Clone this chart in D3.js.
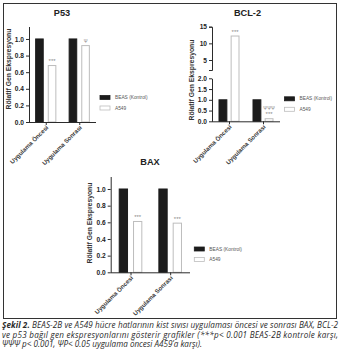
<!DOCTYPE html>
<html>
<head>
<meta charset="utf-8">
<script src="https://cdn.jsdelivr.net/npm/d3@7"></script>
<style>
  html, body { margin: 0; padding: 0; background: #fff; }
  svg { display: block; }
  .tick text { font-family: "Liberation Sans", Arial, sans-serif; }
</style>
</head>
<body>
<svg id="fig" width="342" height="363"></svg>
<script>
// Gene expression values (relative to BEAS-2B control)
const categories = ["Uygulama Öncesi", "Uygulama Sonrası"];
const seriesNames = ["BEAS (Kontrol)", "A549"];
const yAxisTitle = "Rölatif Gen Ekspresyonu";

const p53Beas = [1.0, 1.0];
const p53A549 = [0.68, 0.92];
const p53Marks = [["***"], ["Ψ"]];
const p53Ticks = [0, 0.2, 0.4, 0.6, 0.8, 1.0];

const bcl2Beas = [1.0, 1.0];
const bcl2A549 = [12.2, 0.12];
const bcl2Marks = [["***"], ["***", "ΨΨΨ"]];
const bcl2TicksLow = [0, 0.5, 1.0, 1.5, 2.0];
const bcl2TicksHigh = [5, 10, 15];

const baxBeas = [1.0, 1.0];
const baxA549 = [0.61, 0.59];
const baxMarks = [["***"], ["***"]];
const baxTicks = [0, 0.2, 0.4, 0.6, 0.8, 1.0];

const captionLines = [
  [["Şekil 2.", true], [" BEAS-2B ve A549 hücre hatlarının kist sıvısı uygulaması öncesi ve sonrası BAX, BCL-2", false]],
  [["ve p53 bağıl gen ekspresyonlarını gösterir grafikler (***p< 0.001 BEAS-2B kontrole karşı,", false]],
  [["ΨΨΨ p< 0.001, ΨP< 0.05 uygulama öncesi A459’a karşı).", false]]
];

const svg = d3.select("#fig");
const FONT = "'Liberation Sans', Arial, sans-serif";
const AX = "#2b2b2b";

// outer frame
svg.append("rect")
  .attr("x", 3.5).attr("y", 3.5).attr("width", 333).attr("height", 315)
  .attr("fill", "none").attr("stroke", "#333").attr("stroke-width", 1);

function styleAxis(g) {
  g.selectAll("path, line").attr("stroke", AX).attr("stroke-width", 1);
  g.selectAll("text").attr("fill", "#222").attr("font-family", FONT)
    .attr("font-weight", "bold").attr("font-size", 6.6);
}

function panel(o) {
  const g = svg.append("g");
  const x = d3.scalePoint().domain(categories).range([o.x0, o.x1]).padding(0.5);
  const xs = d3.scaleBand().domain(seriesNames)
    .range([-o.half, o.half]).paddingInner(o.inner).paddingOuter(0);
  const bw = xs.bandwidth();

  // y axis segments
  o.segments.forEach(s => {
    const ax = g.append("g").attr("transform", `translate(${o.x0},0)`)
      .call(d3.axisLeft(s.scale).tickValues(s.ticks)
        .tickFormat(s.fmt).tickSize(3).tickSizeOuter(s.outer).tickPadding(2));
    styleAxis(ax);
  });

  // bars
  const rows = categories.map((c, i) => ({ c, i, vals: [o.beas[i], o.a549[i]] }));
  rows.forEach(r => {
    r.vals.forEach((v, k) => {
      const xl = x(r.c) + xs(seriesNames[k]);
      const top = o.y(v);
      g.append("rect")
        .attr("x", xl + 0.5).attr("y", top)
        .attr("width", bw - 1).attr("height", o.y(0) - top)
        .attr("fill", k === 0 ? "#1c1c1c" : "#fff")
        .attr("stroke", k === 0 ? "#1c1c1c" : "#bdbdbd")
        .attr("stroke-width", 1);
    });
    // significance marks above the A549 bar
    const cx = x(r.c) + xs(seriesNames[1]) + bw / 2;
    o.marks[r.i].forEach((m, j) => {
      g.append("text")
        .attr("x", cx).attr("y", o.y(r.vals[1]) - 2.5 - j * 6)
        .attr("text-anchor", "middle").attr("font-family", FONT)
        .attr("font-size", m.includes("Ψ") ? 4.6 : 6).attr("fill", "#8a8a8a")
        .text(m);
    });
  });

  // x axis
  const xa = g.append("g").attr("transform", `translate(0,${o.y(0)})`)
    .call(d3.axisBottom(x).tickSize(3).tickSizeOuter(0).tickFormat(""));
  styleAxis(xa);
  xa.select(".domain").attr("d", `M${o.x0},0.5H${o.x1}`);
  categories.forEach(c => {
    g.append("text")
      .attr("transform", `translate(${x(c) + 3},${o.y(0) + 6}) rotate(-45)`)
      .attr("text-anchor", "end").attr("font-family", FONT)
      .attr("font-weight", "bold").attr("font-size", 6.1).attr("fill", "#3a3a3a")
      .text(c);
  });

  // y title
  g.append("text")
    .attr("transform", `translate(${o.titleX},${o.titleY}) rotate(-90)`)
    .attr("text-anchor", "middle").attr("dominant-baseline", "central")
    .attr("font-family", FONT).attr("font-weight", "bold")
    .attr("font-size", 6.8).attr("fill", "#333").text(yAxisTitle);

  // chart title
  g.append("text")
    .attr("x", o.headX).attr("y", o.headY)
    .attr("text-anchor", "middle").attr("font-family", FONT)
    .attr("font-weight", "bold").attr("font-size", 9.2).attr("fill", "#222")
    .text(o.head);

  // legend
  seriesNames.forEach((n, k) => {
    const ly = o.legY + k * 10.5;
    g.append("rect")
      .attr("x", o.legX).attr("y", ly - 2).attr("width", 10).attr("height", 4)
      .attr("fill", k === 0 ? "#1c1c1c" : "#fff")
      .attr("stroke", k === 0 ? "#1c1c1c" : "#bdbdbd").attr("stroke-width", 0.8);
    g.append("text")
      .attr("x", o.legX + 15).attr("y", ly).attr("dominant-baseline", "central")
      .attr("font-family", FONT).attr("font-size", 4.8).attr("fill", "#555")
      .text(n);
  });
}

// P53
const yP53 = d3.scaleLinear().domain([0, 1.15]).range([122, 26.5]);
panel({
  head: "P53", headX: 62, headY: 15.5,
  x0: 29, x1: 96, half: 10.6, inner: 0.32,
  y: yP53, beas: p53Beas, a549: p53A549, marks: p53Marks,
  segments: [{ scale: yP53, ticks: p53Ticks, fmt: d3.format(".1f"), outer: 0 }],
  titleX: 8.5, titleY: 69, legX: 100, legY: 97.5
});

// BCL-2 with broken y axis
const yLow = d3.scaleLinear().domain([0, 2]).range([121.3, 78.3]);
const yHigh = d3.scaleLinear().domain([2, 15]).range([70, 26.7]);
const yBcl = v => (v <= 2 ? yLow(v) : yHigh(v));
panel({
  head: "BCL-2", headX: 247.5, headY: 15.5,
  x0: 212, x1: 280, half: 10.5, inner: 0.27,
  y: yBcl, beas: bcl2Beas, a549: bcl2A549, marks: bcl2Marks,
  segments: [
    { scale: yLow, ticks: bcl2TicksLow, fmt: d3.format(".1f"), outer: 0 },
    { scale: yHigh, ticks: bcl2TicksHigh, fmt: d3.format("d"), outer: 3 }
  ],
  titleX: 191.7, titleY: 80, legX: 284.5, legY: 98.8
});

// BAX
const yBax = d3.scaleLinear().domain([0, 1.15]).range([272.3, 176.5]);
panel({
  head: "BAX", headX: 150, headY: 165,
  x0: 110.7, x1: 190, half: 11.8, inner: 0.35,
  y: yBax, beas: baxBeas, a549: baxA549, marks: baxMarks,
  segments: [{ scale: yBax, ticks: baxTicks, fmt: d3.format(".1f"), outer: 0 }],
  titleX: 89.3, titleY: 223, legX: 194.3, legY: 249
});

// caption
const capY = [327.5, 337.5, 347];
captionLines.forEach((line, i) => {
  const t = svg.append("text")
    .attr("x", 2).attr("y", capY[i])
    .attr("font-family", "'Open Sans', 'Noto Sans', sans-serif")
    .attr("font-size", 8.1).attr("font-style", "italic").attr("fill", "#2a2a2a");
  if (i < 2) t.attr("textLength", 336).attr("lengthAdjust", "spacing");
  line.forEach(([s, b]) => {
    t.append("tspan").attr("font-weight", b ? "bold" : "normal").text(s);
  });
});
</script>
</body>
</html>
